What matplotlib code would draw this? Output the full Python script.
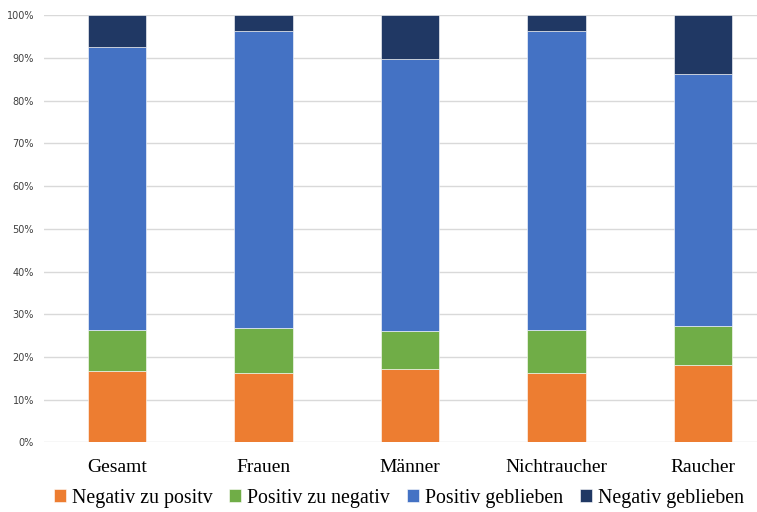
import numpy as np
import matplotlib.pyplot as plt
from matplotlib.ticker import PercentFormatter

groups = ['Gesamt', 'Frauen', 'Männer', 'Nichtraucher', 'Raucher']
series = ['Negativ zu positv', 'Positiv zu negativ', 'Positiv geblieben', 'Negativ geblieben']
neg_pos = [16.8, 16.2, 17.2, 16.2, 18.1]
pos_neg = [9.5, 10.6, 8.9, 10.1, 9.1]
pos_pos = [66.3, 69.5, 63.7, 70.0, 59.1]
neg_neg = [7.4, 3.7, 10.2, 3.7, 13.7]
colors = ['#ED7D31', '#70AD47', '#4472C4', '#203864']

fig = plt.figure(figsize=(7.57, 5.12), dpi=100)
ax = fig.add_axes([0.0578, 0.136, 0.9676, 0.834])

x = np.arange(len(groups))
bottom = np.zeros(len(groups))
for name, vals, c in zip(series, [neg_pos, pos_neg, pos_pos, neg_neg], colors):
    ax.bar(x, vals, width=0.4, bottom=bottom, color=c, label=name,
           edgecolor='white', linewidth=0.4, zorder=3)
    bottom += np.array(vals)

ax.set_xlim(-0.5, len(groups) - 0.5)
ax.set_ylim(0, 100)
ax.set_yticks(np.arange(0, 101, 10))
ax.yaxis.set_major_formatter(PercentFormatter(decimals=0))
ax.grid(axis='y', color='#D9D9D9', linewidth=1, zorder=0)
for s in ax.spines.values():
    s.set_visible(False)
ax.tick_params(length=0)
ax.tick_params(axis='y', labelsize=7, pad=7, colors='#404040')
ax.set_xticks(x)
ax.set_xticklabels(groups, fontfamily='Liberation Serif', fontsize=14)
ax.tick_params(axis='x', pad=12)

fig.legend(loc='center', bbox_to_anchor=(0.527, 0.027), ncol=4, frameon=False,
           prop={'family': 'Liberation Serif', 'size': 14.3},
           handlelength=0.6, handleheight=0.6, handletextpad=0.3,
           columnspacing=0.85)

fig.savefig('out.png', dpi=100)
